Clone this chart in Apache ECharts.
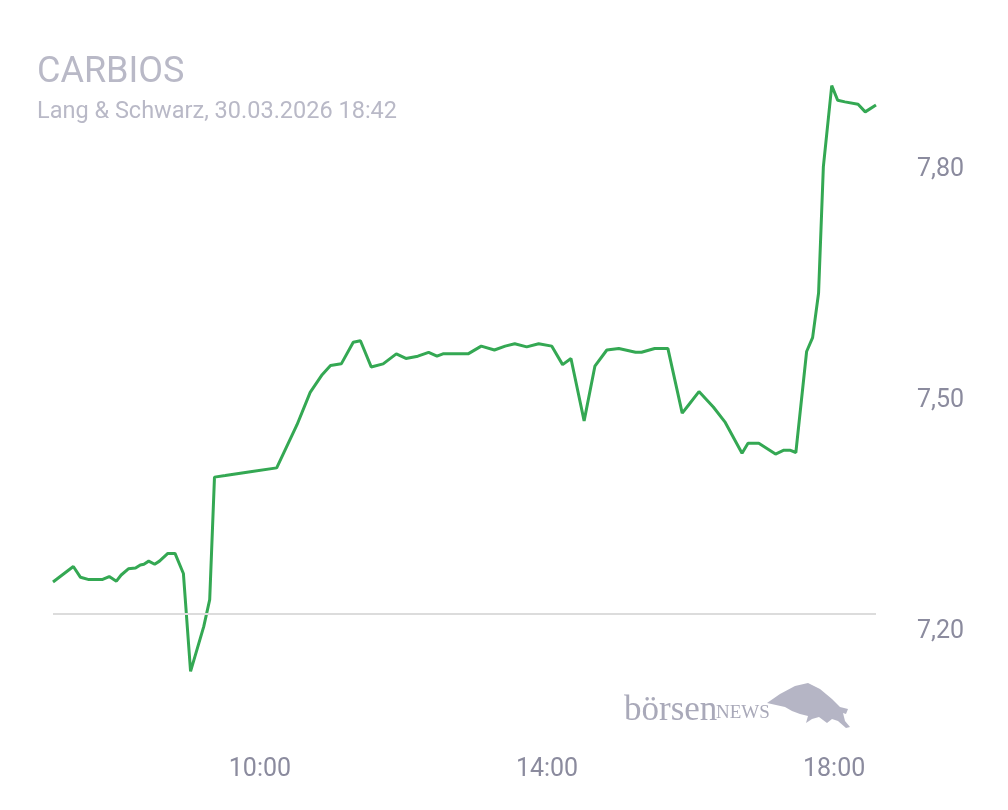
<!DOCTYPE html>
<html>
<head>
<meta charset="utf-8">
<script src="https://cdn.jsdelivr.net/npm/echarts@6/dist/echarts.min.js"></script>
<style>
html,body{margin:0;padding:0;background:#fff;}
#chart{width:1008px;height:810px;}
</style>
</head>
<body>
<div id="chart"></div>
<script>
const titleText = "CARBIOS";
const subtitleText = "Lang & Schwarz, 30.03.2026 18:42";
const times = ["07:07","07:24","07:30","07:37","07:48","07:54","08:00","08:04","08:10","08:16",
"08:20","08:23","08:27","08:32","08:36","08:43","08:49","08:56","09:02","09:13",
"09:18","09:22","09:31","09:52","10:14","10:31","10:42","10:52","10:59","11:08",
"11:18","11:24","11:33","11:43","11:54","12:02","12:12","12:21","12:28","12:33",
"12:54","13:05","13:16","13:25","13:33","13:43","13:53","14:04","14:13","14:20",
"14:31","14:40","14:50","15:00","15:14","15:19","15:30","15:41","15:53","15:58",
"16:07","16:19","16:29","16:43","16:48","16:57","17:11","17:18","17:23","17:28",
"17:37","17:42","17:47","17:51","17:58","18:03","18:09","18:20","18:26","18:35"];
const prices = [7.261,7.281,7.267,7.264,7.264,7.268,7.262,7.270,7.278,7.279,
7.283,7.284,7.288,7.284,7.288,7.298,7.298,7.272,7.145,7.203,
7.238,7.397,7.399,7.404,7.409,7.465,7.507,7.530,7.542,7.544,
7.572,7.574,7.540,7.544,7.557,7.551,7.554,7.559,7.554,7.557,
7.557,7.567,7.562,7.567,7.570,7.566,7.570,7.567,7.543,7.551,
7.470,7.541,7.562,7.564,7.559,7.559,7.564,7.564,7.480,7.490,
7.508,7.488,7.468,7.428,7.441,7.441,7.427,7.432,7.432,7.429,
7.560,7.578,7.636,7.800,7.905,7.886,7.884,7.881,7.871,7.880];
const previousClose = 7.218;
const xTickLabels = ["10:00","14:00","18:00"];
const yTickValues = [7.20, 7.50, 7.80];

function toMin(t){ const p = t.split(':'); return (+p[0])*60 + (+p[1]); }
function fmtMin(m){ const h = Math.floor(m/60), mm = Math.round(m%60); return (h<10?'0':'')+h+':'+(mm<10?'0':'')+mm; }

const seriesData = times.map((t,i)=>[toMin(t), prices[i]]);

const chart = echarts.init(document.getElementById('chart'));
chart.setOption({
  backgroundColor:'#ffffff',
  animation:false,
  title:{
    text:titleText, subtext:subtitleText,
    left:32, top:50, itemGap:9,
    textStyle:{fontFamily:'Roboto', fontSize:36, fontWeight:'normal', color:'#b9b9c7'},
    subtextStyle:{fontFamily:'Roboto', fontSize:23.5, color:'#b9b9c7'}
  },
  grid:{left:53, right:132, top:51, bottom:104},
  xAxis:{
    type:'value', min:'dataMin', max:'dataMax',
    axisLine:{show:false}, axisTick:{show:false}, splitLine:{show:false},
    axisLabel:{
      customValues: xTickLabels.map(toMin),
      formatter:(v)=>fmtMin(v),
      margin:51, fontFamily:'Roboto', fontSize:25, color:'#8b8b9e'
    }
  },
  yAxis:{
    type:'value', position:'right', min:7.10, max:7.95, scale:true,
    axisLine:{show:false}, axisTick:{show:false}, splitLine:{show:false},
    axisLabel:{
      customValues: yTickValues,
      formatter:(v)=>'{a|'+v.toFixed(2).replace('.',',')+'}',
      rich:{a:{fontFamily:'Roboto', fontSize:25, color:'#8b8b9e', padding:[6,0,0,0]}},
      margin:41, fontFamily:'Roboto', fontSize:25, color:'#8b8b9e'
    }
  },
  series:[{
    type:'line', data:seriesData, showSymbol:false, symbol:'none',
    lineStyle:{color:'#34a853', width:3}, itemStyle:{color:'#34a853'},
    markLine:{
      silent:true, symbol:['none','none'], label:{show:false},
      lineStyle:{color:'#dcdcdc', width:2, type:'solid'},
      data:[{yAxis:previousClose}]
    },
    z:3
  }],
  graphic:[
    {type:'text', x:624, y:693, style:{text:'börsen', font:'35px "Liberation Serif"', fill:'#a9a9b9'}},
    {type:'text', x:716, y:704, style:{text:'NEWS', font:'19px "Liberation Serif"', fill:'#a9a9b9'}},
    {type:'polygon', shape:{points:[[767,703],[780,694],[795,686],[808,683],[820,689],[832,699],[840,707],[848,709],[846,714],[843,713],[845,721],[850,727],[846,728],[838,721],[832,719],[827,723],[819,717],[812,719],[806,723],[808,716],[800,714],[792,711],[785,707],[776,705]]},
     style:{fill:'#b5b5c5'}}
  ]
});
</script>
</body>
</html>
